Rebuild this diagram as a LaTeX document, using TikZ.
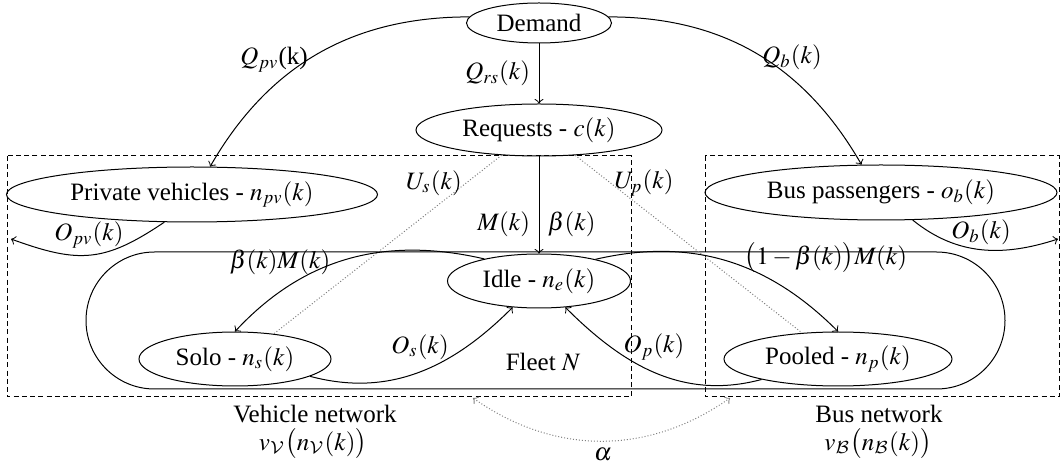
\documentclass[tikz,border=0pt]{standalone}
\usepackage{mathptmx}
\DeclareMathAlphabet{\mathcal}{OMS}{cmsy}{m}{n}
\usepackage{fontspec}
\setmainfont{Liberation Serif}
\usetikzlibrary{shapes.geometric,calc}
\begin{document}
\begin{tikzpicture}[x=0.4pt,y=0.4pt,
  st/.style={ellipse, draw, inner sep=0pt, minimum height=21.6pt},
  flow/.style={->},
  dashbox/.style={dash pattern=on 2pt off 1.3pt},
  dots/.style={gray, dash pattern=on 0.4pt off 0.8pt},
  netlbl/.style={anchor=base, inner sep=0pt}]
\useasboundingbox (0,0) rectangle (1060,-472);
% network boxes
\draw[dashbox] (7,-156) rectangle (631,-397);
\draw[dashbox] (705,-156) rectangle (1059,-397);
% fleet
\draw[rounded corners=27.4pt] (86,-252) rectangle (1005,-389);
\node (fleet) at (543,-362.5) {Fleet $N$};
% states
\node[st, minimum width=58pt, minimum height=16pt] (dem) at (539,-23) {Demand};
\node[st, minimum width=98.4pt, minimum height=20.8pt] (req) at (539,-130) {Requests - $c(k)$};
\node[st, minimum width=148.4pt, minimum height=22pt] (pv) at (192,-194.5) {Private vehicles - $n_{pv}(k)$};
\node[st, minimum width=140.8pt, minimum height=22pt] (bus) at (881,-192.5) {Bus passengers - $o_b(k)$};
\node[st, minimum width=73.2pt] (idle) at (539,-281) {Idle - $n_e(k)$};
\node[st, minimum width=76.8pt] (solo) at (235,-359) {Solo - $n_s(k)$};
\node[st, minimum width=91.2pt] (pool) at (838,-359) {Pooled - $n_p(k)$};
% free ends
\coordinate (pvo) at (11,-239);
\coordinate (bo) at (1058,-239);
\coordinate (al) at (473,-398);
\coordinate (ar) at (730,-398);
% flows
\draw[flow] (dem) -- node[left] (lqrs) {$Q_{rs}(k)$} (req);
\draw[flow] (req) -- node[pos=.7,left] (lm) {$M(k)$} node[pos=.7,right] (lb) {$\beta(k)$} (idle);
\draw[flow] (dem.175) to[out=180,in=60] (pv.57);
\draw[flow] (dem.5) to[out=0,in=120] (bus.125);
\draw[dots] (req.214) -- (solo.33);
\draw[dots] (req.325) -- (pool.144);
\draw[flow] (idle.158) to[out=167,in=47] (solo.north);
\draw[flow] (idle.21) to[out=13,in=135] (pool.north);
\draw[flow] (solo.347) to[out=-15,in=225] (idle.225);
\draw[flow] (pool.195) to[out=195,in=315] (idle.315);
\draw[flow] (pv.225) to[out=214,in=340,looseness=1.2] (pvo);
\draw[flow] (bus.319) to[out=-39,in=198] (bo);
\draw[dots,<->] (al) to[out=-35,in=215] (ar);
% labels
\node (lqpv) at (274,-60) {$Q_{pv}$(k)};
\node (lqb) at (792,-57) {$Q_b(k)$};
\node (lus) at (434,-183) {$U_s(k)$};
\node (lup) at (644,-183) {$U_p(k)$};
\node (lbm) at (280,-262) {$\beta(k)M(k)$};
\node (l1bm) at (826,-258) {$\big(1-\beta(k)\big)M(k)$};
\node (los) at (420,-347) {$O_s(k)$};
\node (lop) at (654,-347) {$O_p(k)$};
\node (lopv) at (89,-235) {$O_{pv}(k)$};
\node (lob) at (981,-232) {$O_b(k)$};
\node (lal) at (603,-455) {$\alpha$};
\node[netlbl] (vn) at (315,-423) {Vehicle network};
\node[netlbl] (vf) at (313,-450) {$v_{\mathcal{V}}\big(n_{\mathcal{V}}(k)\big)$};
\node[netlbl] (bn) at (879,-423) {Bus network};
\node[netlbl] (bf) at (878,-450) {$v_{\mathcal{B}}\big(n_{\mathcal{B}}(k)\big)$};
\end{tikzpicture}
\end{document}
